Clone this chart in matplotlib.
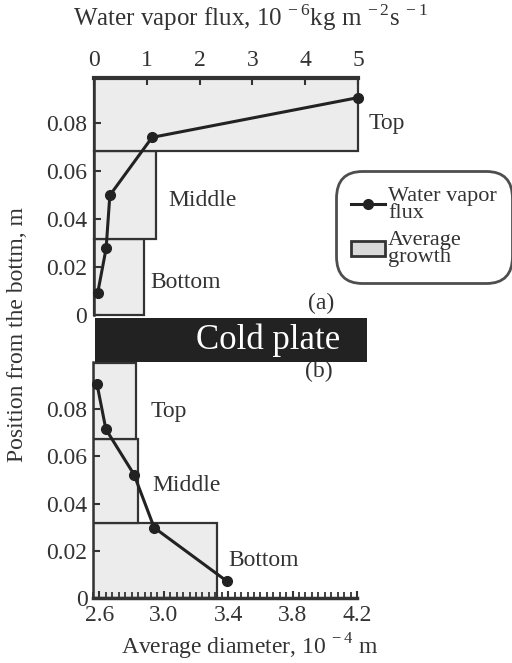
import matplotlib
matplotlib.use("Agg")
import matplotlib.pyplot as plt
from matplotlib.patches import Rectangle, Patch
from matplotlib.lines import Line2D
from matplotlib.ticker import MultipleLocator

plt.rcParams['font.family'] = ['Liberation Serif', 'DejaVu Serif']
plt.rcParams['mathtext.fontset'] = 'custom'
plt.rcParams['mathtext.rm'] = 'Liberation Serif'
plt.rcParams['text.color'] = '#333333'
plt.rcParams['axes.edgecolor'] = '#333333'
plt.rcParams['xtick.color'] = '#333333'
plt.rcParams['ytick.color'] = '#333333'

# ---- data ----
regions = ["Bottom", "Middle", "Top"]
# panel (a): water vapor flux
a_bar_lo = [0.0, 0.0317, 0.0687]
a_bar_hi = [0.0317, 0.0687, 0.099]
a_bar_width = [0.95, 1.17, 5.0]
a_flux_x = [0.07, 0.23, 0.30, 1.10, 5.0]
a_flux_y = [0.0092, 0.0279, 0.050, 0.0742, 0.0908]
# panel (b): average diameter
b_bar_lo = [0.0, 0.0319, 0.0672]
b_bar_hi = [0.0319, 0.0672, 0.0995]
b_bar_right = [3.33, 2.84, 2.83]
b_diam_x = [2.585, 2.64, 2.815, 2.94, 3.39]
b_diam_y = [0.0906, 0.0715, 0.0523, 0.0298, 0.0072]
a_xticks = [0, 1, 2, 3, 4, 5]
b_xticks = [2.6, 3.0, 3.4, 3.8, 4.2]
yticks = [0, 0.02, 0.04, 0.06, 0.08]
ytick_labels = ["0", "0.02", "0.04", "0.06", "0.08"]

W, H = 512, 663
fig = plt.figure(figsize=(W / 100, H / 100), dpi=100)

bar_fc = '#ececec'
bar_ec = '#333333'
line_c = '#222222'
fs = 17

def fx(px):
    return px / W

def fy(py):
    return 1 - py / H

# ---- panel (a) ----
axa = fig.add_axes([fx(94), fy(315), fx(358) - fx(94), fy(78) - fy(315)])
axa.set_xlim(0, 5)
axa.set_ylim(0, 0.099)
for lo, hi, w in zip(a_bar_lo, a_bar_hi, a_bar_width):
    axa.barh((lo + hi) / 2, w, height=hi - lo, left=0, color=bar_fc,
             edgecolor=bar_ec, linewidth=1.6, clip_on=False, zorder=2)
axa.plot(a_flux_x, a_flux_y, '-o', color=line_c, lw=2.2, ms=7, zorder=3, clip_on=False)
axa.set_axisbelow(False)
axa.spines['right'].set_visible(False)
axa.spines['bottom'].set_visible(False)
axa.spines['top'].set_linewidth(3)
axa.spines['left'].set_linewidth(1.8)
axa.xaxis.tick_top()
axa.set_xticks(a_xticks)
axa.set_xticklabels([str(t) for t in a_xticks], fontsize=fs)
axa.set_yticks(yticks)
axa.set_yticklabels(ytick_labels, fontsize=fs)
axa.tick_params(direction='in', length=5, width=1.5, pad=5)
fig.text(fx(250), fy(18),
         r'Water vapor flux, 10 $^{\mathrm{-\,6}}$kg m $^{\mathrm{-\,2}}$s $^{\mathrm{-\,1}}$',
         fontsize=18, ha='center', va='center')
axa.text(5.2, 0.080, 'Top', fontsize=fs, va='center', ha='left')
axa.text(1.40, 0.048, 'Middle', fontsize=fs, va='center', ha='left')
axa.text(1.06, 0.0137, 'Bottom', fontsize=fs, va='center', ha='left')
axa.text(4.05, 0.005, '(a)', fontsize=fs, va='center', ha='left')

# ---- panel (b) ----
axb = fig.add_axes([fx(93), fy(598), fx(357) - fx(93), fy(362) - fy(598)])
axb.set_xlim(2.56, 4.2)
axb.set_ylim(0, 0.1)
for lo, hi, r in zip(b_bar_lo, b_bar_hi, b_bar_right):
    axb.barh((lo + hi) / 2, r - 2.56, height=hi - lo, left=2.56, color=bar_fc,
             edgecolor=bar_ec, linewidth=1.6, zorder=2)
axb.plot(b_diam_x, b_diam_y, '-o', color=line_c, lw=2.2, ms=7, zorder=3, clip_on=False)
axb.set_axisbelow(False)
axb.spines['right'].set_visible(False)
axb.spines['top'].set_visible(False)
axb.spines['left'].set_linewidth(1.8)
axb.spines['bottom'].set_linewidth(2.5)
axb.set_xticks(b_xticks)
axb.set_xticklabels([f'{t:.1f}' for t in b_xticks], fontsize=fs)
axb.xaxis.set_minor_locator(MultipleLocator(0.04))
axb.set_yticks(yticks)
axb.set_yticklabels(ytick_labels, fontsize=fs)
axb.tick_params(direction='in', length=5, width=1.5, pad=4)
axb.tick_params(axis='x', pad=5)
axb.tick_params(which='minor', direction='in', length=4, width=1.3)
fig.text(fx(250), fy(647), r'Average diameter, 10 $^{\mathrm{-\,4}}$ m',
         fontsize=fs, ha='center', va='center')
axb.text(2.92, 0.079, 'Top', fontsize=fs, va='center', ha='left')
axb.text(2.93, 0.0477, 'Middle', fontsize=fs, va='center', ha='left')
axb.text(3.40, 0.0157, 'Bottom', fontsize=fs, va='center', ha='left')
axb.text(3.88, 0.096, '(b)', fontsize=fs, va='center', ha='left')

# ---- cold plate ----
fig.patches.append(Rectangle((fx(95), fy(362)), fx(367) - fx(95), fy(318) - fy(362),
                             transform=fig.transFigure, facecolor='#222222',
                             edgecolor='none', zorder=5))
fig.text(fx(268), fy(340), 'Cold plate', color='white', fontsize=25,
         ha='center', va='center', zorder=6)

# ---- y label ----
fig.text(fx(18), fy(335), 'Position from the bottm, m', rotation=90,
         fontsize=fs, ha='center', va='center')

# ---- legend ----
handles = [Line2D([], [], color=line_c, lw=2.2, marker='o', ms=7),
           Patch(facecolor='#d9d9d9', edgecolor='#333333', linewidth=2)]
leg = fig.legend(handles, ['Water vapor\nflux', 'Average\ngrowth'],
                 loc='center', bbox_to_anchor=(fx(424), fy(227)),
                 fontsize=16, frameon=True, handlelength=1.5, handletextpad=0.15,
                 labelspacing=0.4, borderpad=0.5, fancybox=True)
frame = leg.get_frame()
frame.set_edgecolor('#222222')
frame.set_linewidth(2)
frame.set_boxstyle('round,pad=0.2,rounding_size=1.2')
for t in leg.get_texts():
    t.set_color('#333333')
    t.set_linespacing(0.85)

fig.savefig('out.png', dpi=100, facecolor='white')
